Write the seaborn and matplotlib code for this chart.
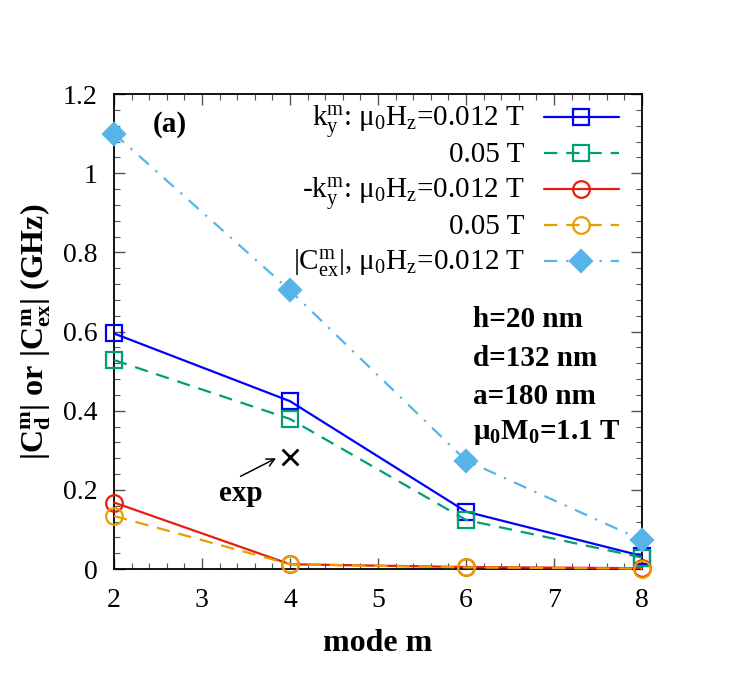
import matplotlib
matplotlib.use('Agg')
import matplotlib.pyplot as plt
import numpy as np
import pandas as pd
import seaborn as sns
from matplotlib.ticker import MultipleLocator, FuncFormatter

# %% data
modes = [2, 4, 6, 8]
ky_012 = [0.595, 0.424, 0.145, 0.033]
ky_05 = [0.528, 0.379, 0.124, 0.029]
mky_012 = [0.168, 0.012, 0.005, 0.002]
mky_05 = [0.134, 0.012, 0.004, 0.001]
cex_012 = [1.100, 0.704, 0.274, 0.073]
exp_m = [4]
exp_val = [0.283]

labels = [r'k$_\mathrm{y}^\mathrm{m}$: μ$_\mathrm{0}$H$_\mathrm{z}$=0.012 T',
          '0.05 T',
          r'-k$_\mathrm{y}^\mathrm{m}$: μ$_\mathrm{0}$H$_\mathrm{z}$=0.012 T',
          '0.05 T',
          r'|C$_\mathrm{ex}^\mathrm{m}$|, μ$_\mathrm{0}$H$_\mathrm{z}$=0.012 T']
params = ['h=20 nm', 'd=132 nm', 'a=180 nm',
          r'μ$_\mathbf{0}$M$_\mathbf{0}$=1.1 T']

# %%
sns.set_style('ticks')
plt.rcParams['font.family'] = ['Liberation Serif', 'DejaVu Serif']
plt.rcParams['mathtext.fontset'] = 'custom'
plt.rcParams['mathtext.rm'] = 'Liberation Serif'
plt.rcParams['mathtext.it'] = 'Liberation Serif:italic'
plt.rcParams['mathtext.bf'] = 'Liberation Serif:bold'
for k in ['text.color', 'axes.labelcolor', 'xtick.labelcolor', 'ytick.labelcolor']:
    plt.rcParams[k] = 'black'

f = plt.figure(figsize=(7.5, 6.98), dpi=100)
ax = f.add_axes([0.152, 0.1848, 0.704, 0.6805])

lw = 1.6
common = dict(lw=lw, mew=1.6, clip_on=False)
sns.lineplot(ax=ax, x=modes, y=ky_012, color='#0000ff', marker='s', ms=11,
             mfc='none', mec='#0000ff', label=labels[0], **common)
sns.lineplot(ax=ax, x=modes, y=ky_05, color='#009e73', marker='s', ms=11,
             mfc='none', mec='#009e73', dashes=(6, 4), label=labels[1], **common)
sns.lineplot(ax=ax, x=modes, y=mky_012, color='#e51e10', marker='o', ms=12,
             mfc='none', mec='#e51e10', label=labels[2], **common)
sns.lineplot(ax=ax, x=modes, y=mky_05, color='#e69f00', marker='o', ms=12,
             mfc='none', mec='#e69f00', dashes=(6, 4), label=labels[3], **common)
sns.lineplot(ax=ax, x=modes, y=cex_012, color='#56b4e9', marker='D', ms=11,
             mec='#56b4e9', mfc='#56b4e9', dashes=(6, 4, 1, 4), label=labels[4], **common)
sns.scatterplot(ax=ax, x=exp_m, y=exp_val, marker='x', s=130, color='black',
                linewidth=2, legend=False)

ax.set_xlim(2, 8)
ax.set_ylim(0, 1.2)
ax.xaxis.set_major_locator(MultipleLocator(1))
ax.xaxis.set_minor_locator(MultipleLocator(0.2))
ax.yaxis.set_major_locator(MultipleLocator(0.2))
ax.yaxis.set_minor_locator(MultipleLocator(0.04))
ax.yaxis.set_major_formatter(FuncFormatter(lambda v, p: '%g' % round(v, 2)))
ax.tick_params(which='both', direction='in', top=True, right=True, labelsize=20,
               color='#555555')
ax.tick_params(which='major', length=8, width=1, pad=12)
ax.tick_params(axis='x', which='major', pad=13.5)
ax.tick_params(which='minor', length=4.5, width=0.8)
for s in ax.spines.values():
    s.set_linewidth(1.3)
    s.set_color('black')
    s.set_zorder(1)

ax.set_xlabel('mode m', fontsize=23, fontweight='bold', labelpad=12)
ax.set_ylabel(r'|C$_\mathbf{d}^\mathbf{m}$| or |C$_\mathbf{ex}^\mathbf{m}$| (GHz)',
              fontsize=23, fontweight='bold', labelpad=7)

ax.text(2.44, 1.122, '(a)', fontsize=21, fontweight='bold', va='center', ha='left')
for i, t in enumerate(params):
    ax.text(6.08, [0.630, 0.533, 0.437, 0.346][i], t, fontsize=21,
            fontweight='bold', va='center', ha='left')
ax.text(3.44, 0.19, 'exp', fontsize=21, fontweight='bold', va='center', ha='center')
ax.annotate('', xy=(3.87, 0.283), xytext=(3.41, 0.231),
            arrowprops=dict(arrowstyle='->', color='black', lw=1.1,
                            mutation_scale=14))

# gnuplot-style key: samples on the right, text right-justified to their left,
# rows on an even pitch whatever the text height
handles, labs = ax.get_legend_handles_labels()
ax.legend(handles, [''] * len(handles), loc='upper right',
          bbox_to_anchor=(0.956, 0.971), frameon=False, fontsize=19,
          handlelength=2.85, handleheight=0.7, labelspacing=0.47,
          borderaxespad=0, borderpad=0, handletextpad=0)
for i, t in enumerate(labs):
    ax.text(0.778, 0.9337 - i * 0.0758, t, transform=ax.transAxes, fontsize=21,
            ha='right', va='baseline')

f.savefig('out.png', dpi=100)
